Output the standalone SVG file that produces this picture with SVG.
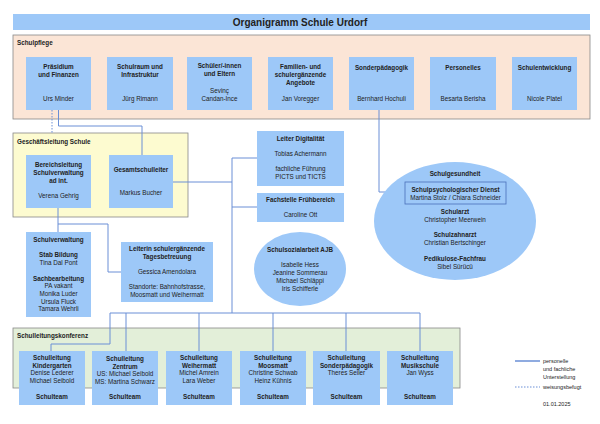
<svg xmlns="http://www.w3.org/2000/svg" width="600" height="424" viewBox="0 0 600 424">
<style>
text{font-family:"Liberation Sans",Arial,sans-serif;font-size:6.3px;fill:#222;text-anchor:middle}
.b{font-weight:bold}
.l{text-anchor:start}
.box{fill:#9dc8f8}
.c{fill:none;stroke:#6a8fd6;stroke-width:1}
.d{fill:none;stroke:#6a8fd6;stroke-width:1;stroke-dasharray:1.5 1.5}
</style>
<rect width="600" height="424" fill="#fff"/>
<g id="title"><rect x="13" y="14" width="577" height="16" fill="#9dc8f8"/><text x="300" y="25.5" class="b" style="font-size:10px">Organigramm Schule Urdorf</text></g>
<g id="schulpflege"><rect x="13" y="35" width="577" height="84" fill="#fbe5d6" stroke="#888" stroke-width="0.8"/><text x="17" y="45" class="b l">Schulpflege</text></g>
<g id="geschaeftsleitung"><rect x="13" y="133" width="175" height="84" fill="#fdfbd0" stroke="#888" stroke-width="0.8"/><text x="17" y="144" class="b l">Geschäftsleitung Schule</text></g>
<g id="slk"><rect x="13" y="328" width="447" height="60" fill="#e3efd9" stroke="#888" stroke-width="0.8"/><text x="17" y="338" class="b l">Schulleitungskonferenz</text></g>
<g id="connectors">
<path class="d" d="M52 110V133"/>
<path class="c" d="M58.5 110V126H142V155"/>
<path class="c" d="M379 110V192H405"/>
<path class="c" d="M173 182H232"/>
<path class="c" d="M257 158H232V313"/>
<path class="c" d="M232 207H257"/>
<path class="c" d="M58 208V232"/>
<path class="c" d="M58 224H108V272H121"/>
<path class="c" d="M110 313H420"/>
<path class="c" d="M110 313V344H51V351"/>
<path class="c" d="M126 313V351M199 313V351M273 313V351M346 313V351M420 313V351"/>
<path class="d" d="M58 266V275"/>
</g>
<g id="praesidium"><rect class="box" x="26" y="57" width="65" height="53"/><text x="58.5" y="69" class="b">Präsidium</text><text x="58.5" y="77" class="b">und Finanzen</text><text x="58.5" y="101">Urs Minder</text></g>
<g id="schulraum"><rect class="box" x="107" y="57" width="66" height="53"/><text x="140" y="69" class="b">Schulraum und</text><text x="140" y="77" class="b">Infrastruktur</text><text x="140" y="101">Jürg Rimann</text></g>
<g id="schueler"><rect class="box" x="187" y="57" width="65" height="53"/><text x="219.5" y="68" class="b">Schüler/-innen</text><text x="219.5" y="76" class="b">und Eltern</text><text x="219.5" y="93">Sevinç</text><text x="219.5" y="101">Candan-Ince</text></g>
<g id="familien"><rect class="box" x="268" y="57" width="65" height="53"/><text x="300.5" y="69" class="b">Familien- und</text><text x="300.5" y="77" class="b">schulergänzende</text><text x="300.5" y="85" class="b">Angebote</text><text x="300.5" y="101">Jan Voregger</text></g>
<g id="sonderpaed"><rect class="box" x="349" y="57" width="65" height="53"/><text x="381.5" y="70" class="b">Sonderpädagogik</text><text x="381.5" y="101">Bernhard Hochuli</text></g>
<g id="personelles"><rect class="box" x="430" y="57" width="66" height="53"/><text x="463" y="70" class="b">Personelles</text><text x="463" y="101">Besarta Berisha</text></g>
<g id="schulentwicklung"><rect class="box" x="512" y="57" width="65" height="53"/><text x="544.5" y="70" class="b">Schulentwicklung</text><text x="544.5" y="101">Nicole Platel</text></g>
<g id="bereichsleitung"><rect class="box" x="26" y="155" width="65" height="53"/><text x="58.5" y="167" class="b">Bereichsleitung</text><text x="58.5" y="175" class="b">Schulverwaltung</text><text x="58.5" y="183" class="b">ad int.</text><text x="58.5" y="198">Verena Gehrig</text></g>
<g id="gesamtschulleiter"><rect class="box" x="109" y="155" width="64" height="53"/><text x="141" y="172" class="b">Gesamtschulleiter</text><text x="141" y="195">Markus Bucher</text></g>
<g id="digital"><rect class="box" x="257" y="131" width="87" height="55"/><text x="300.5" y="141" class="b">Leiter Digitalität</text><text x="300.5" y="156">Tobias Achermann</text><text x="300.5" y="171">fachliche Führung</text><text x="300.5" y="179">PICTS und TICTS</text></g>
<g id="fruehbereich"><rect class="box" x="257" y="193" width="87" height="29"/><text x="300.5" y="202" class="b">Fachstelle Frühbereich</text><text x="300.5" y="217">Caroline Ott</text></g>
<g id="sozialarbeit"><ellipse class="box" cx="300" cy="269" rx="46" ry="37"/><text x="300" y="252" class="b">Schulsozialarbeit AJB</text><text x="300" y="267">Isabelle Hess</text><text x="300" y="275">Jeanine Sommerau</text><text x="300" y="283">Michael Schläppi</text><text x="300" y="291">Iris Schifferle</text></g>
<g id="schulgesundheit"><ellipse class="box" cx="455" cy="221" rx="81" ry="59"/><text x="455" y="176" class="b">Schulgesundheit</text><rect x="405" y="182" width="101" height="22" fill="none" stroke="#4a6fb8" stroke-width="0.8"/><text x="455.5" y="191.5" class="b">Schulpsychologischer Dienst</text><text x="455.5" y="200">Martina Stolz / Chiara Schneider</text><text x="455" y="214" class="b">Schularzt</text><text x="455" y="222">Christopher Meerwein</text><text x="455" y="237" class="b">Schulzahnarzt</text><text x="455" y="245">Christian Bertschinger</text><text x="455" y="261" class="b">Pedikulose-Fachfrau</text><text x="455" y="269">Sibel Sürücü</text></g>
<g id="schulverwaltung"><rect class="box" x="26" y="232" width="65" height="85"/><text x="58.5" y="242" class="b">Schulverwaltung</text><text x="58.5" y="257" class="b">Stab Bildung</text><text x="58.5" y="265">Tina Dal Pont</text><text x="58.5" y="281" class="b">Sachbearbeitung</text><text x="58.5" y="288">PA vakant</text><text x="58.5" y="296">Monika Luder</text><text x="58.5" y="304">Ursula Fluck</text><text x="58.5" y="311">Tamara Wehrli</text></g>
<g id="tagesbetreuung"><rect class="box" x="121" y="242" width="92" height="60"/><text x="167" y="251" class="b">Leiterin schulergänzende</text><text x="167" y="259" class="b">Tagesbetreuung</text><text x="167" y="274">Gessica Amendolara</text><text x="167" y="289">Standorte: Bahnhofstrasse,</text><text x="167" y="297">Moosmatt und Weihermatt</text></g>
<g id="sl-kg"><rect class="box" x="19" y="351" width="66" height="54"/><text x="52" y="360" class="b">Schulleitung</text><text x="52" y="368" class="b">Kindergarten</text><text x="52" y="375">Denise Lederer</text><text x="52" y="383">Michael Seibold</text><text x="52" y="399" class="b">Schulteam</text></g>
<g id="sl-zentrum"><rect class="box" x="92" y="351" width="66" height="54"/><text x="125" y="361" class="b">Schulleitung</text><text x="125" y="369" class="b">Zentrum</text><text x="125" y="376">US: Michael Seibold</text><text x="125" y="384">MS: Martina Schwarz</text><text x="125" y="399" class="b">Schulteam</text></g>
<g id="sl-weihermatt"><rect class="box" x="166" y="351" width="66" height="54"/><text x="199" y="360" class="b">Schulleitung</text><text x="199" y="368" class="b">Weihermatt</text><text x="199" y="375">Michel Amrein</text><text x="199" y="383">Lara Weber</text><text x="199" y="399" class="b">Schulteam</text></g>
<g id="sl-moosmatt"><rect class="box" x="240" y="351" width="66" height="54"/><text x="273" y="360" class="b">Schulleitung</text><text x="273" y="368" class="b">Moosmatt</text><text x="273" y="375">Christine Schwab</text><text x="273" y="383">Heinz Kühnis</text><text x="273" y="399" class="b">Schulteam</text></g>
<g id="sl-sonder"><rect class="box" x="313" y="351" width="67" height="54"/><text x="346.5" y="360" class="b">Schulleitung</text><text x="346.5" y="368" class="b">Sonderpädagogik</text><text x="346.5" y="375">Theres Seiler</text><text x="346.5" y="399" class="b">Schulteam</text></g>
<g id="sl-musik"><rect class="box" x="387" y="351" width="66" height="54"/><text x="420" y="360" class="b">Schulleitung</text><text x="420" y="368" class="b">Musikschule</text><text x="420" y="375">Jan Wyss</text><text x="420" y="399" class="b">Schulteam</text></g>
<g id="legend" style="font-size:5.5px">
<path d="M515 361H540" stroke="#6a8fd6" stroke-width="1.5"/>
<text x="543" y="363" class="l" style="font-size:5.5px">personelle</text><text x="543" y="371" class="l" style="font-size:5.5px">und fachliche</text><text x="543" y="379" class="l" style="font-size:5.5px">Unterstellung</text>
<path class="d" d="M515 387H540"/>
<text x="543" y="389" class="l" style="font-size:5.5px">weisungsbefugt</text>
<text x="543" y="406" class="l" style="font-size:5.5px">01.01.2025</text>
</g>
</svg>
